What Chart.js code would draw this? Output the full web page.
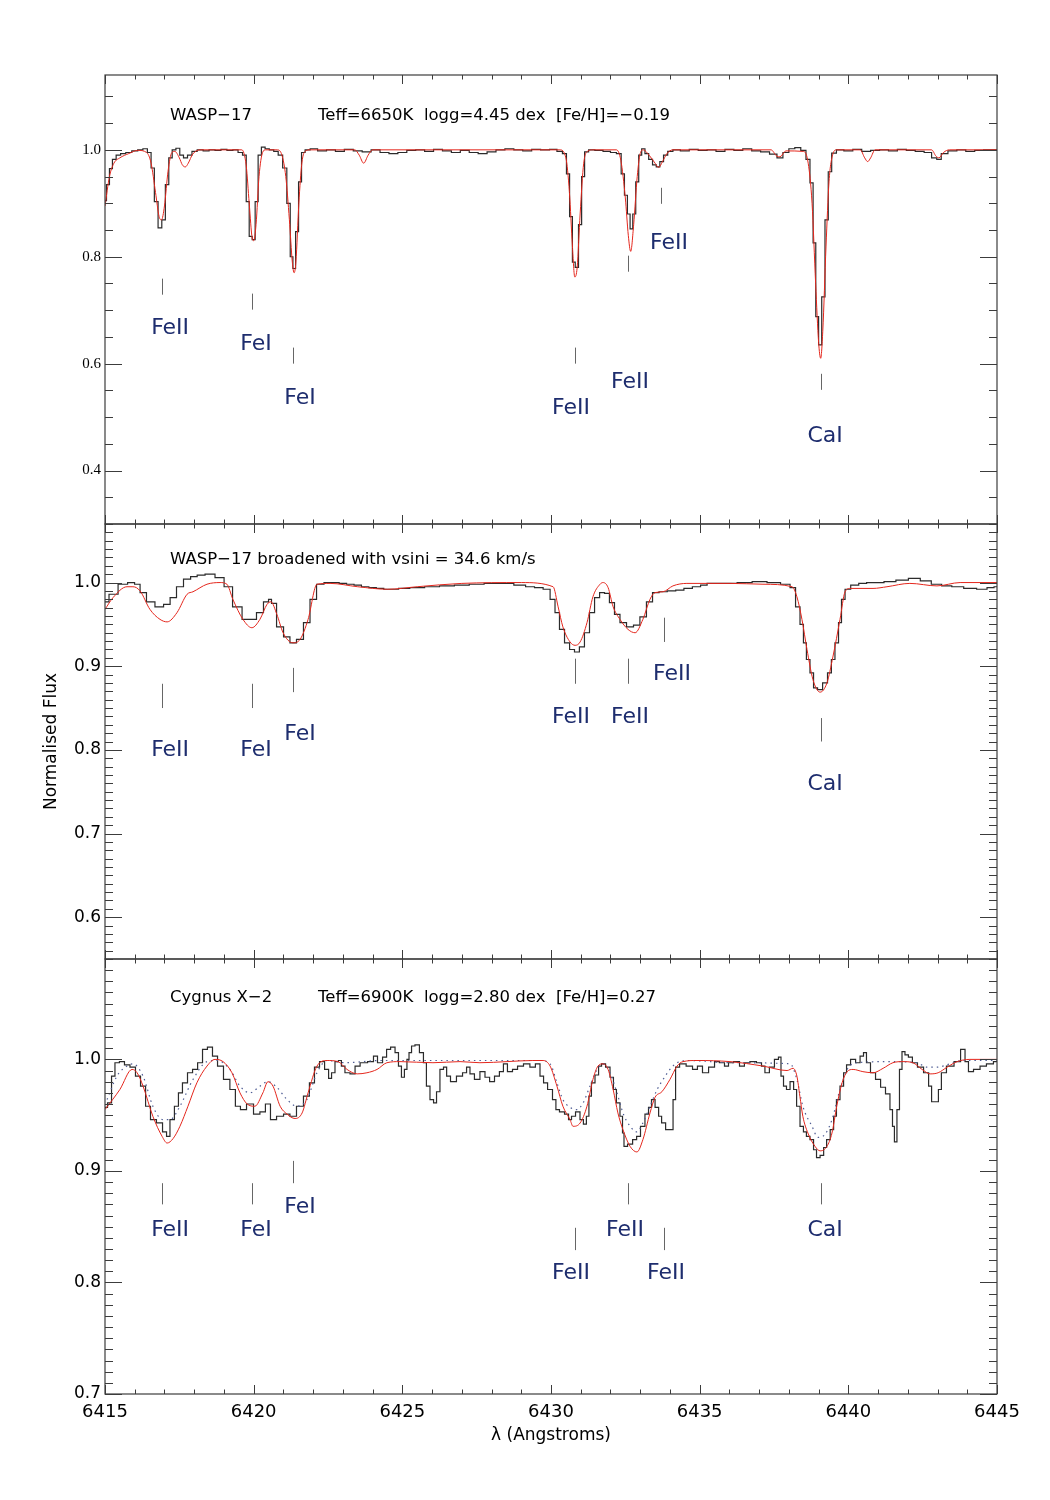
<!DOCTYPE html>
<html>
<head>
<meta charset="utf-8">
<script src="https://cdn.jsdelivr.net/npm/chart.js@4.4.0/dist/chart.umd.min.js"></script>
<style>
  body { margin: 0; background: #fff; }
  #wrap { position: relative; width: 1050px; height: 1500px; background: #fff; }
  canvas { position: absolute; left: 0; }
</style>
</head>
<body>
<div id="wrap">
  <canvas id="p1" width="1050" height="479" style="top:60px"></canvas>
  <canvas id="p2" width="1050" height="465" style="top:509px"></canvas>
  <canvas id="p3" width="1050" height="512" style="top:944px"></canvas>
</div>
<script>
// ---- axis ticks ----
const X_TICKS = [6415, 6420, 6425, 6430, 6435, 6440, 6445];
const P1_YTICKS = [0.4, 0.6, 0.8, 1.0];
const P2_YTICKS = [0.6, 0.7, 0.8, 0.9, 1.0];
const P3_YTICKS = [0.7, 0.8, 0.9, 1.0];

// ---- panel 1 : WASP-17 ----
const P1_OBS_WL = [
  6415.00, 6415.10, 6415.20, 6415.30, 6415.45, 6415.60, 6415.80, 6416.00, 6416.20, 6416.35,
  6416.50, 6416.60, 6416.72, 6416.85, 6416.97, 6417.09, 6417.20, 6417.32, 6417.45, 6417.58,
  6417.70, 6417.85, 6418.00, 6418.20, 6418.40, 6418.60, 6418.80, 6419.00, 6419.20, 6419.40,
  6419.55, 6419.70, 6419.80, 6419.90, 6420.00, 6420.10, 6420.20, 6420.32, 6420.45, 6420.60,
  6420.75, 6420.90, 6421.05, 6421.18, 6421.28, 6421.36, 6421.46, 6421.56, 6421.66, 6421.80,
  6422.00, 6422.30, 6422.60, 6422.90, 6423.20, 6423.50, 6423.80, 6424.10, 6424.40, 6424.70,
  6425.00, 6425.30, 6425.60, 6425.90, 6426.20, 6426.50, 6426.80, 6427.10, 6427.40, 6427.70,
  6428.00, 6428.30, 6428.60, 6428.90, 6429.20, 6429.50, 6429.80, 6430.10, 6430.30, 6430.47,
  6430.57, 6430.68, 6430.76, 6430.87, 6430.98, 6431.08, 6431.18, 6431.35, 6431.60, 6431.90,
  6432.10, 6432.30, 6432.42, 6432.52, 6432.62, 6432.70, 6432.80, 6432.90, 6433.00, 6433.10,
  6433.22, 6433.35, 6433.48, 6433.60, 6433.72, 6433.85, 6434.00, 6434.20, 6434.50, 6434.80,
  6435.10, 6435.40, 6435.70, 6436.00, 6436.30, 6436.60, 6436.90, 6437.20, 6437.50, 6437.70,
  6437.90, 6438.10, 6438.30, 6438.50, 6438.65, 6438.77, 6438.86, 6438.95, 6439.05, 6439.16,
  6439.27, 6439.38, 6439.50, 6439.70, 6440.00, 6440.30, 6440.60, 6440.90, 6441.20, 6441.50,
  6441.80, 6442.10, 6442.40, 6442.70, 6442.90, 6443.05, 6443.20, 6443.50, 6443.80, 6444.10,
  6444.40, 6444.70, 6445.00
];
const P1_OBS_FLUX = [
  0.905, 0.935, 0.965, 0.982, 0.990, 0.993, 0.995, 0.998, 1.000, 1.002,
  0.995, 0.966, 0.903, 0.854, 0.869, 0.935, 0.985, 1.000, 1.003, 0.990,
  0.985, 0.990, 0.997, 1.000, 0.998, 1.000, 0.999, 1.001, 0.999, 1.000,
  0.995, 0.990, 0.903, 0.838, 0.832, 0.903, 0.990, 1.005, 1.002, 1.000,
  0.997, 0.990, 0.966, 0.900, 0.800, 0.778, 0.847, 0.940, 0.995, 1.000,
  1.002, 0.998, 1.000, 0.997, 1.001, 0.998, 0.996, 1.000, 0.995, 0.993,
  0.995, 0.999, 1.000, 0.997, 1.001, 0.998, 0.995, 0.999, 0.995, 0.993,
  0.996, 1.000, 1.002, 1.000, 0.998, 1.001, 1.000, 1.001, 0.997, 0.993,
  0.955, 0.875, 0.790, 0.780, 0.860, 0.950, 0.996, 1.000, 0.999, 0.997,
  0.995, 0.993, 0.955, 0.915, 0.880, 0.852, 0.880, 0.940, 0.990, 1.002,
  0.993, 0.982, 0.972, 0.968, 0.978, 0.990, 0.997, 1.000, 0.998, 1.001,
  0.999, 1.000, 0.997, 1.001, 0.999, 1.002, 0.998, 0.996, 0.992, 0.985,
  0.995, 1.002, 1.004, 0.999, 0.982, 0.938, 0.826, 0.688, 0.635, 0.725,
  0.869, 0.959, 0.994, 1.000, 0.998, 1.001, 0.997, 0.999, 1.000, 0.998,
  1.001, 0.999, 0.997, 0.995, 0.985, 0.982, 0.993, 0.998, 1.000, 0.997,
  0.999, 1.000, 1.000
];
const P1_MOD_WL = [
  6415.00, 6415.15, 6415.30, 6415.50, 6415.80, 6416.10, 6416.40, 6416.55, 6416.70, 6416.82,
  6416.90, 6417.00, 6417.12, 6417.25, 6417.35, 6417.50, 6417.60, 6417.70, 6417.80, 6417.95,
  6418.20, 6419.60, 6419.75, 6419.85, 6419.95, 6420.00, 6420.08, 6420.18, 6420.30, 6420.40,
  6420.80, 6420.95, 6421.08, 6421.20, 6421.30, 6421.36, 6421.42, 6421.52, 6421.62, 6421.75,
  6421.90, 6423.40, 6423.55, 6423.70, 6423.85, 6424.00, 6430.30, 6430.50, 6430.62, 6430.72,
  6430.80, 6430.88, 6430.98, 6431.10, 6431.25, 6431.40, 6432.20, 6432.35, 6432.50, 6432.60,
  6432.68, 6432.78, 6432.90, 6433.00, 6433.10, 6433.30, 6433.50, 6433.62, 6433.75, 6433.90,
  6434.10, 6437.40, 6437.60, 6437.70, 6437.90, 6438.50, 6438.65, 6438.78, 6438.90, 6439.00,
  6439.07, 6439.14, 6439.25, 6439.35, 6439.48, 6439.60, 6440.40, 6440.55, 6440.65, 6440.75,
  6440.90, 6442.80, 6442.95, 6443.05, 6443.20, 6443.40, 6445.00
];
const P1_MOD_FLUX = [
  0.895, 0.950, 0.975, 0.985, 0.993, 0.999, 0.995, 0.975, 0.920, 0.875,
  0.869, 0.895, 0.960, 0.995, 0.997, 0.985, 0.972, 0.968, 0.975, 0.992,
  1.000, 1.000, 0.970, 0.900, 0.835, 0.830, 0.860, 0.950, 0.995, 1.000,
  1.000, 0.990, 0.950, 0.870, 0.790, 0.770, 0.790, 0.900, 0.975, 0.998,
  1.000, 1.000, 0.990, 0.975, 0.990, 1.000, 1.000, 0.985, 0.920, 0.820,
  0.762, 0.780, 0.880, 0.975, 0.998, 1.000, 1.000, 0.980, 0.910, 0.840,
  0.810, 0.860, 0.950, 0.993, 1.000, 0.990, 0.975, 0.967, 0.978, 0.993,
  1.000, 1.000, 0.988, 0.987, 0.998, 0.997, 0.975, 0.900, 0.750, 0.640,
  0.610, 0.660, 0.820, 0.940, 0.992, 1.000, 1.000, 0.985, 0.978, 0.985,
  1.000, 1.000, 0.988, 0.985, 0.995, 1.000, 1.000
];

// ---- panel 2 : WASP-17 broadened ----
const P2_OBS_WL = [
  6415.00, 6415.27, 6415.61, 6415.91, 6416.08, 6416.28, 6416.51, 6416.85, 6417.09, 6417.29,
  6417.52, 6417.76, 6418.00, 6418.20, 6418.53, 6418.87, 6419.14, 6419.44, 6419.78, 6419.98,
  6420.21, 6420.45, 6420.55, 6420.65, 6420.89, 6421.12, 6421.32, 6421.56, 6421.79, 6422.00,
  6422.23, 6422.50, 6422.75, 6423.00, 6423.25, 6423.50, 6423.75, 6424.00, 6424.25, 6424.50,
  6424.75, 6425.00, 6425.50, 6426.00, 6426.50, 6427.00, 6427.50, 6428.00, 6428.50, 6429.00,
  6429.29, 6429.60, 6429.87, 6430.07, 6430.20, 6430.37, 6430.54, 6430.71, 6430.87, 6431.04,
  6431.21, 6431.38, 6431.55, 6431.72, 6431.88, 6432.05, 6432.22, 6432.42, 6432.66, 6432.89,
  6433.09, 6433.33, 6433.50, 6433.77, 6434.05, 6434.34, 6434.60, 6434.91, 6435.15, 6435.35,
  6435.70, 6436.02, 6436.50, 6437.03, 6437.50, 6437.94, 6438.14, 6438.31, 6438.44, 6438.54,
  6438.64, 6438.78, 6438.88, 6439.05, 6439.22, 6439.38, 6439.48, 6439.62, 6439.72, 6439.82,
  6439.96, 6440.20, 6440.50, 6440.73, 6441.00, 6441.40, 6441.80, 6442.24, 6442.60, 6442.98,
  6443.30, 6443.66, 6444.10, 6444.53, 6444.80, 6445.00
];
const P2_OBS_FLUX = [
  0.977, 0.986, 0.998, 1.000, 0.998, 0.988, 0.977, 0.971, 0.974, 0.982,
  0.995, 1.004, 1.007, 1.009, 1.010, 1.006, 0.995, 0.971, 0.956, 0.956,
  0.964, 0.977, 0.980, 0.975, 0.947, 0.935, 0.928, 0.932, 0.952, 0.980,
  0.998, 1.000, 1.000, 0.999, 0.998, 0.997, 0.995, 0.994, 0.993, 0.992,
  0.992, 0.993, 0.994, 0.995, 0.996, 0.997, 0.998, 0.999, 0.999, 0.997,
  0.995, 0.994, 0.992, 0.980, 0.964, 0.944, 0.928, 0.920, 0.917, 0.923,
  0.940, 0.964, 0.982, 0.988, 0.987, 0.976, 0.962, 0.952, 0.947, 0.949,
  0.959, 0.977, 0.988, 0.989, 0.990, 0.991, 0.993, 0.995, 0.997, 0.999,
  0.999, 0.999, 1.000, 1.001, 1.000, 0.998, 0.994, 0.971, 0.950, 0.928,
  0.908, 0.892, 0.874, 0.872, 0.880, 0.892, 0.908, 0.928, 0.952, 0.980,
  0.992, 0.997, 0.999, 1.000, 1.000, 1.001, 1.003, 1.005, 1.002, 0.998,
  0.996, 0.995, 0.993, 0.992, 0.994, 0.995
];
const P2_MOD_WL = [
  6415.00, 6415.27, 6415.74, 6415.94, 6416.18, 6416.51, 6416.85, 6417.09, 6417.42, 6417.76,
  6417.96, 6418.43, 6418.87, 6419.10, 6419.30, 6419.64, 6419.94, 6420.21, 6420.45, 6420.58,
  6420.78, 6420.99, 6421.32, 6421.56, 6421.83, 6422.13, 6422.57, 6423.50, 6424.50, 6425.50,
  6427.00, 6429.00, 6430.07, 6430.24, 6430.40, 6430.64, 6430.81, 6430.98, 6431.21, 6431.41,
  6431.65, 6431.75, 6431.92, 6432.09, 6432.32, 6432.59, 6432.83, 6433.09, 6433.33, 6433.50,
  6433.77, 6434.10, 6434.57, 6436.02, 6437.13, 6438.11, 6438.27, 6438.44, 6438.61, 6438.81,
  6439.05, 6439.28, 6439.48, 6439.72, 6439.89, 6440.06, 6440.83, 6441.30, 6442.07, 6442.98,
  6443.76, 6445.00
];
const P2_MOD_FLUX = [
  0.968, 0.982, 0.995, 0.995, 0.990, 0.968, 0.956, 0.953, 0.964, 0.986,
  0.989, 0.998, 1.000, 0.998, 0.980, 0.956, 0.946, 0.956, 0.974, 0.977,
  0.962, 0.940, 0.928, 0.932, 0.956, 0.998, 0.999, 0.995, 0.992, 0.995,
  0.999, 1.000, 0.995, 0.971, 0.947, 0.929, 0.925, 0.929, 0.952, 0.983,
  0.998, 1.000, 0.994, 0.971, 0.956, 0.944, 0.940, 0.956, 0.980, 0.988,
  0.989, 0.996, 0.999, 0.999, 0.998, 0.995, 0.983, 0.956, 0.920, 0.884,
  0.869, 0.880, 0.911, 0.956, 0.989, 0.993, 0.993, 0.995, 0.999, 0.996,
  1.000, 1.000
];

// ---- panel 3 : Cygnus X-2 ----
const P3_OBS_WL = [
  6415.00, 6415.17, 6415.27, 6415.40, 6415.57, 6415.74, 6415.94, 6416.11, 6416.28, 6416.45,
  6416.61, 6416.85, 6417.02, 6417.12, 6417.25, 6417.42, 6417.52, 6417.69, 6417.86, 6418.03,
  6418.20, 6418.36, 6418.53, 6418.70, 6418.87, 6419.10, 6419.30, 6419.47, 6419.64, 6419.88,
  6420.11, 6420.31, 6420.48, 6420.65, 6420.89, 6421.12, 6421.32, 6421.56, 6421.79, 6421.96,
  6422.13, 6422.30, 6422.47, 6422.57, 6422.67, 6422.80, 6422.90, 6423.00, 6423.14, 6423.34,
  6423.48, 6423.68, 6423.98, 6424.08, 6424.25, 6424.42, 6424.52, 6424.69, 6424.82, 6424.92,
  6425.02, 6425.12, 6425.19, 6425.26, 6425.36, 6425.49, 6425.66, 6425.76, 6425.86, 6426.00,
  6426.10, 6426.20, 6426.33, 6426.44, 6426.54, 6426.70, 6426.94, 6427.11, 6427.21, 6427.34,
  6427.51, 6427.71, 6427.85, 6428.02, 6428.18, 6428.35, 6428.45, 6428.62, 6428.79, 6428.96,
  6429.19, 6429.39, 6429.56, 6429.70, 6429.80, 6429.97, 6430.13, 6430.20, 6430.37, 6430.54,
  6430.64, 6430.74, 6430.91, 6431.04, 6431.14, 6431.24, 6431.31, 6431.41, 6431.55, 6431.65,
  6431.75, 6431.92, 6432.05, 6432.15, 6432.25, 6432.39, 6432.42, 6432.49, 6432.66, 6432.83,
  6432.93, 6433.09, 6433.23, 6433.33, 6433.43, 6433.57, 6433.67, 6433.77, 6433.94, 6434.07,
  6434.14, 6434.24, 6434.41, 6434.68, 6434.84, 6435.01, 6435.18, 6435.42, 6435.58, 6435.75,
  6435.92, 6436.02, 6436.26, 6436.42, 6436.59, 6436.79, 6437.03, 6437.13, 6437.26, 6437.43,
  6437.60, 6437.70, 6437.77, 6437.87, 6437.97, 6438.11, 6438.21, 6438.31, 6438.44, 6438.54,
  6438.64, 6438.78, 6438.88, 6438.98, 6439.12, 6439.22, 6439.32, 6439.46, 6439.55, 6439.65,
  6439.79, 6439.89, 6439.99, 6440.16, 6440.33, 6440.46, 6440.56, 6440.66, 6440.83, 6441.00,
  6441.17, 6441.33, 6441.47, 6441.50, 6441.60, 6441.67, 6441.77, 6441.84, 6441.97, 6442.07,
  6442.24, 6442.41, 6442.65, 6442.75, 6442.85, 6442.98, 6443.08, 6443.18, 6443.42, 6443.69,
  6443.86, 6443.99, 6444.09, 6444.33, 6444.53, 6444.76, 6445.00
];
const P3_OBS_FLUX = [
  0.957, 0.961, 0.985, 0.997, 0.998, 0.995, 0.993, 0.985, 0.976, 0.958,
  0.946, 0.943, 0.935, 0.931, 0.946, 0.958, 0.970, 0.979, 0.988, 0.991,
  0.997, 1.009, 1.011, 1.003, 0.994, 0.982, 0.973, 0.958, 0.955, 0.960,
  0.951, 0.953, 0.960, 0.946, 0.949, 0.951, 0.949, 0.958, 0.967, 0.979,
  0.993, 0.998, 0.991, 0.983, 0.988, 0.998, 0.999, 0.994, 0.988, 0.987,
  0.994, 0.997, 0.998, 1.003, 0.997, 1.002, 1.009, 1.011, 1.006, 0.994,
  0.984, 0.991, 1.000, 1.006, 1.012, 1.013, 1.006, 0.997, 0.976, 0.964,
  0.961, 0.971, 0.991, 0.993, 0.985, 0.980, 0.985, 0.988, 0.993, 0.987,
  0.982, 0.989, 0.984, 0.980, 0.985, 0.989, 0.996, 0.989, 0.991, 0.994,
  0.996, 0.993, 0.996, 0.985, 0.979, 0.973, 0.964, 0.955, 0.953, 0.951,
  0.946, 0.949, 0.953, 0.946, 0.942, 0.949, 0.967, 0.979, 0.986, 0.994,
  0.996, 0.993, 0.984, 0.973, 0.961, 0.949, 0.934, 0.922, 0.924, 0.928,
  0.931, 0.940, 0.951, 0.957, 0.964, 0.957, 0.949, 0.943, 0.937, 0.937,
  0.964, 0.993, 0.996, 0.994, 0.991, 0.994, 0.988, 0.993, 0.998, 0.997,
  0.994, 0.997, 0.998, 0.994, 0.997, 0.998, 0.997, 0.994, 0.988, 0.993,
  1.000, 1.002, 0.985, 0.976, 0.973, 0.980, 0.973, 0.958, 0.940, 0.935,
  0.931, 0.928, 0.919, 0.912, 0.914, 0.921, 0.928, 0.937, 0.949, 0.964,
  0.976, 0.988, 0.995, 1.000, 0.997, 1.003, 1.006, 0.997, 0.988, 0.982,
  0.975, 0.969, 0.955, 0.940, 0.926, 0.955, 0.991, 1.007, 1.004, 1.002,
  0.997, 0.993, 0.988, 0.976, 0.962, 0.962, 0.973, 0.988, 0.994, 0.998,
  1.009, 0.998, 0.989, 0.991, 0.994, 0.996, 0.998
];
const P3_MOD_WL = [
  6415.00, 6415.50, 6415.91, 6416.08, 6416.28, 6416.61, 6416.92, 6417.09, 6417.29, 6417.52,
  6417.79, 6418.09, 6418.43, 6418.70, 6418.97, 6419.27, 6419.54, 6419.78, 6420.04, 6420.31,
  6420.48, 6420.65, 6420.89, 6421.12, 6421.39, 6421.63, 6421.83, 6422.13, 6422.47, 6422.84,
  6423.14, 6423.48, 6423.81, 6424.15, 6424.48, 6424.92, 6426.03, 6426.94, 6427.61, 6428.52,
  6429.39, 6429.73, 6429.97, 6430.20, 6430.40, 6430.64, 6430.74, 6430.98, 6431.21, 6431.41,
  6431.58, 6431.75, 6431.92, 6432.09, 6432.25, 6432.42, 6432.66, 6432.89, 6433.09, 6433.33,
  6433.50, 6433.73, 6434.00, 6434.24, 6434.44, 6434.91, 6436.02, 6437.13, 6437.94, 6438.14,
  6438.27, 6438.37, 6438.47, 6438.64, 6438.88, 6439.05, 6439.28, 6439.45, 6439.61, 6439.79,
  6439.96, 6440.16, 6440.49, 6440.83, 6441.17, 6441.50, 6441.84, 6442.17, 6442.48, 6442.75,
  6443.02, 6443.32, 6443.66, 6444.09, 6445.00
];
const P3_MOD_FLUX = [
  0.955, 0.973, 0.991, 0.988, 0.976, 0.949, 0.931, 0.925, 0.929, 0.940,
  0.958, 0.979, 0.994, 1.000, 0.998, 0.988, 0.970, 0.960, 0.958, 0.970,
  0.980, 0.976, 0.958, 0.951, 0.947, 0.952, 0.970, 0.994, 0.999, 0.998,
  0.991, 0.987, 0.988, 0.991, 0.997, 0.998, 0.997, 0.998, 0.997, 0.998,
  0.999, 0.999, 0.994, 0.976, 0.958, 0.946, 0.940, 0.943, 0.958, 0.982,
  0.994, 0.996, 0.991, 0.973, 0.952, 0.937, 0.922, 0.917, 0.928, 0.952,
  0.966, 0.971, 0.982, 0.994, 0.998, 0.999, 0.998, 0.994, 0.990, 0.992,
  0.985, 0.967, 0.949, 0.934, 0.922, 0.918, 0.922, 0.934, 0.958, 0.979,
  0.989, 0.991, 0.989, 0.988, 0.992, 0.997, 0.998, 0.997, 0.991, 0.987,
  0.988, 0.993, 0.998, 1.000, 1.000
];
// broadened comparison model (dotted)
const P3_ALT_WL = [
  6415.07, 6415.40, 6415.74, 6415.94, 6416.28, 6416.61, 6416.95, 6417.19, 6417.52, 6417.96,
  6418.43, 6418.77, 6419.20, 6419.54, 6419.88, 6420.21, 6420.48, 6420.78, 6421.12, 6421.46,
  6421.79, 6422.13, 6422.47, 6423.07, 6424.25, 6429.63, 6429.97, 6430.20, 6430.40, 6430.64,
  6430.87, 6431.08, 6431.31, 6431.55, 6431.75, 6431.98, 6432.22, 6432.42, 6432.66, 6432.89,
  6433.09, 6433.33, 6433.57, 6433.77, 6434.00, 6434.24, 6434.68, 6436.02, 6438.04, 6438.27,
  6438.47, 6438.78, 6438.98, 6439.22, 6439.45, 6439.72, 6439.96, 6440.29, 6441.40, 6442.31,
  6442.65, 6442.98, 6443.42, 6443.86, 6445.00
];
const P3_ALT_FLUX = [
  0.964, 0.985, 0.994, 0.996, 0.985, 0.958, 0.946, 0.946, 0.958, 0.982,
  0.998, 0.999, 0.991, 0.976, 0.970, 0.976, 0.980, 0.975, 0.964, 0.958,
  0.964, 0.988, 0.999, 0.997, 0.999, 0.999, 0.996, 0.979, 0.964, 0.957,
  0.955, 0.961, 0.976, 0.991, 0.996, 0.988, 0.970, 0.952, 0.940, 0.935,
  0.943, 0.958, 0.973, 0.982, 0.991, 0.997, 0.999, 0.997, 0.996, 0.982,
  0.958, 0.940, 0.930, 0.933, 0.946, 0.973, 0.991, 0.997, 0.998, 0.997,
  0.993, 0.993, 0.996, 0.999, 0.999
];

// ---- line identifications: marker wavelength, marker span, label position ----
const P1_LINES = [
  { wl: 6416.92, from: 0.759, to: 0.729, text: 'FeII', tx: 6417.19, ty: 0.667 },
  { wl: 6419.94, from: 0.731, to: 0.701, text: 'FeI',  tx: 6420.08, ty: 0.636 },
  { wl: 6421.32, from: 0.630, to: 0.600, text: 'FeI',  tx: 6421.56, ty: 0.536 },
  { wl: 6430.81, from: 0.630, to: 0.600, text: 'FeII', tx: 6430.67, ty: 0.516 },
  { wl: 6432.59, from: 0.802, to: 0.772, text: 'FeII', tx: 6432.66, ty: 0.566 },
  { wl: 6433.70, from: 0.929, to: 0.899, text: 'FeII', tx: 6433.97, ty: 0.826 },
  { wl: 6439.08, from: 0.581, to: 0.551, text: 'CaI',  tx: 6439.22, ty: 0.465 }
];
const P2_LINES = [
  { wl: 6416.92, from: 0.879, to: 0.850, text: 'FeII', tx: 6417.19, ty: 0.800 },
  { wl: 6419.94, from: 0.879, to: 0.850, text: 'FeI',  tx: 6420.08, ty: 0.800 },
  { wl: 6421.32, from: 0.898, to: 0.869, text: 'FeI',  tx: 6421.56, ty: 0.819 },
  { wl: 6430.81, from: 0.909, to: 0.879, text: 'FeII', tx: 6430.67, ty: 0.839 },
  { wl: 6432.59, from: 0.909, to: 0.879, text: 'FeII', tx: 6432.66, ty: 0.839 },
  { wl: 6433.80, from: 0.958, to: 0.929, text: 'FeII', tx: 6434.07, ty: 0.890 },
  { wl: 6439.08, from: 0.838, to: 0.810, text: 'CaI',  tx: 6439.22, ty: 0.759 }
];
const P3_LINES = [
  { wl: 6416.92, from: 0.889, to: 0.870, text: 'FeII', tx: 6417.19, ty: 0.847 },
  { wl: 6419.94, from: 0.889, to: 0.870, text: 'FeI',  tx: 6420.08, ty: 0.847 },
  { wl: 6421.32, from: 0.909, to: 0.889, text: 'FeI',  tx: 6421.56, ty: 0.867 },
  { wl: 6430.81, from: 0.849, to: 0.829, text: 'FeII', tx: 6430.67, ty: 0.808 },
  { wl: 6432.59, from: 0.889, to: 0.870, text: 'FeII', tx: 6432.49, ty: 0.847 },
  { wl: 6433.80, from: 0.849, to: 0.829, text: 'FeII', tx: 6433.87, ty: 0.808 },
  { wl: 6439.08, from: 0.889, to: 0.870, text: 'CaI',  tx: 6439.22, ty: 0.847 }
];

const FONT = '"DejaVu Sans", Lato, sans-serif';
const NAVY = '#1e2d6e';

// Frame with inward ticks on all sides, headers and line labels
const panelDeco = {
    id: 'panelDeco',
    afterDraw(chart, args, opts) {
        const { ctx, chartArea: a, scales: { x, y } } = chart;
        ctx.save();
        ctx.strokeStyle = '#3c3c3c';
        ctx.lineWidth = 1.2;
        ctx.strokeRect(a.left, a.top, a.right - a.left, a.bottom - a.top);

        const seg = (x0, y0, x1, y1) => {
            ctx.beginPath(); ctx.moveTo(x0, y0); ctx.lineTo(x1, y1); ctx.stroke();
        };
        ctx.lineWidth = 1;
        for (let v = x.min; v <= x.max; v += 1) {
            const px = Math.round(x.getPixelForValue(v)) + 0.5;
            const len = X_TICKS.includes(v) ? 9 : 4.5;
            seg(px, a.bottom, px, a.bottom - len);
            seg(px, a.top, px, a.top + len);
        }
        const k0 = Math.ceil(y.min / opts.minor - 1e-6);
        const k1 = Math.floor(y.max / opts.minor + 1e-6);
        for (let k = k0; k <= k1; k++) {
            const v = k * opts.minor;
            const major = opts.yTicks.some(t => Math.abs(t - v) < 1e-6);
            const len = major ? 17 : 8;
            const py = Math.round(y.getPixelForValue(v)) + 0.5;
            seg(a.left, py, a.left + len, py);
            seg(a.right, py, a.right - len, py);
        }

        // header
        ctx.fillStyle = '#000';
        ctx.font = '16.5px ' + FONT;
        ctx.textBaseline = 'middle';
        ctx.textAlign = 'left';
        opts.header.forEach(h => ctx.fillText(h.text, a.left + h.dx, a.top + opts.headerDy));

        // line identifications
        ctx.strokeStyle = '#666';
        ctx.lineWidth = 1;
        ctx.fillStyle = NAVY;
        ctx.font = '22px ' + FONT;
        ctx.textAlign = 'center';
        opts.lines.forEach(l => {
            const px = Math.round(x.getPixelForValue(l.wl)) + 0.5;
            seg(px, y.getPixelForValue(l.from), px, y.getPixelForValue(l.to));
            ctx.fillText(l.text, x.getPixelForValue(l.tx), y.getPixelForValue(l.ty));
        });
        ctx.restore();
    }
};

function series(wl, flux) {
    return wl.map((w, i) => ({ x: w, y: flux[i] }));
}

function makePanel(canvasId, p) {
    const datasets = [
        { data: series(p.modWl, p.modFlux), borderColor: '#e4261c', borderWidth: 1,
          cubicInterpolationMode: 'monotone', pointRadius: 0, order: 0 },
        { data: series(p.obsWl, p.obsFlux), borderColor: '#2b2b2b', borderWidth: 1.2,
          stepped: 'middle', pointRadius: 0, order: 2 }
    ];
    if (p.altWl) {
        datasets.push({ data: series(p.altWl, p.altFlux), borderColor: '#4f5d94', borderWidth: 1.2,
          borderDash: [1.5, 4], cubicInterpolationMode: 'monotone', pointRadius: 0, order: 1 });
    }

    return new Chart(document.getElementById(canvasId), {
        type: 'line',
        data: { datasets },
        options: {
            responsive: false,
            animation: false,
            devicePixelRatio: 1,
            layout: { padding: { left: 0, right: 53, top: 15, bottom: p.showX ? 10 : 15 } },
            plugins: {
                legend: { display: false },
                tooltip: { enabled: false },
                panelDeco: { minor: p.minor, yTicks: p.yTicks, header: p.header,
                             headerDy: p.headerDy, lines: p.lines }
            },
            scales: {
                x: {
                    type: 'linear', min: 6415, max: 6445,
                    display: p.showX,
                    afterBuildTicks: s => { s.ticks = X_TICKS.map(v => ({ value: v })); },
                    afterFit: s => { if (p.showX) s.height = 52; },
                    grid: { display: false, drawTicks: false },
                    border: { display: false },
                    ticks: { color: '#000', font: { family: FONT, size: 18 }, padding: 8,
                             maxRotation: 0, callback: v => String(v) },
                    title: { display: true, text: 'λ (Angstroms)', color: '#000',
                             font: { family: FONT, size: 17 }, padding: { top: 4, bottom: 0 } }
                },
                y: {
                    type: 'linear', min: p.yMin, max: p.yMax,
                    afterBuildTicks: s => { s.ticks = p.yTicks.map(v => ({ value: v })); },
                    afterFit: s => { s.width = 105; },
                    grid: { display: false, drawTicks: false },
                    border: { display: false },
                    ticks: { color: '#000', padding: 4, callback: v => v.toFixed(1),
                             font: p.serif ? { family: '"Liberation Serif", serif', size: 15 }
                                           : { family: FONT, size: 17 } },
                    title: { display: !!p.yTitle, text: p.yTitle || '', color: '#000',
                             font: { family: FONT, size: 17 }, padding: { top: 41, bottom: 0 } }
                }
            }
        },
        plugins: [panelDeco]
    });
}

makePanel('p1', {
    yMin: 0.3, yMax: 1.14, yTicks: P1_YTICKS, minor: 0.05, serif: true,
    obsWl: P1_OBS_WL, obsFlux: P1_OBS_FLUX, modWl: P1_MOD_WL, modFlux: P1_MOD_FLUX,
    header: [{ text: 'WASP−17', dx: 65 }, { text: 'Teff=6650K  logg=4.45 dex  [Fe/H]=−0.19', dx: 213 }],
    headerDy: 41, lines: P1_LINES, showX: false
});
makePanel('p2', {
    yMin: 0.55, yMax: 1.07, yTicks: P2_YTICKS, minor: 0.01, serif: false,
    obsWl: P2_OBS_WL, obsFlux: P2_OBS_FLUX, modWl: P2_MOD_WL, modFlux: P2_MOD_FLUX,
    header: [{ text: 'WASP−17 broadened with vsini = 34.6 km/s', dx: 65 }],
    headerDy: 36, lines: P2_LINES, showX: false, yTitle: 'Normalised Flux'
});
makePanel('p3', {
    yMin: 0.7, yMax: 1.09, yTicks: P3_YTICKS, minor: 0.01, serif: false,
    obsWl: P3_OBS_WL, obsFlux: P3_OBS_FLUX, modWl: P3_MOD_WL, modFlux: P3_MOD_FLUX,
    altWl: P3_ALT_WL, altFlux: P3_ALT_FLUX,
    header: [{ text: 'Cygnus X−2', dx: 65 }, { text: 'Teff=6900K  logg=2.80 dex  [Fe/H]=0.27', dx: 213 }],
    headerDy: 39, lines: P3_LINES, showX: true
});
</script>
</body>
</html>
